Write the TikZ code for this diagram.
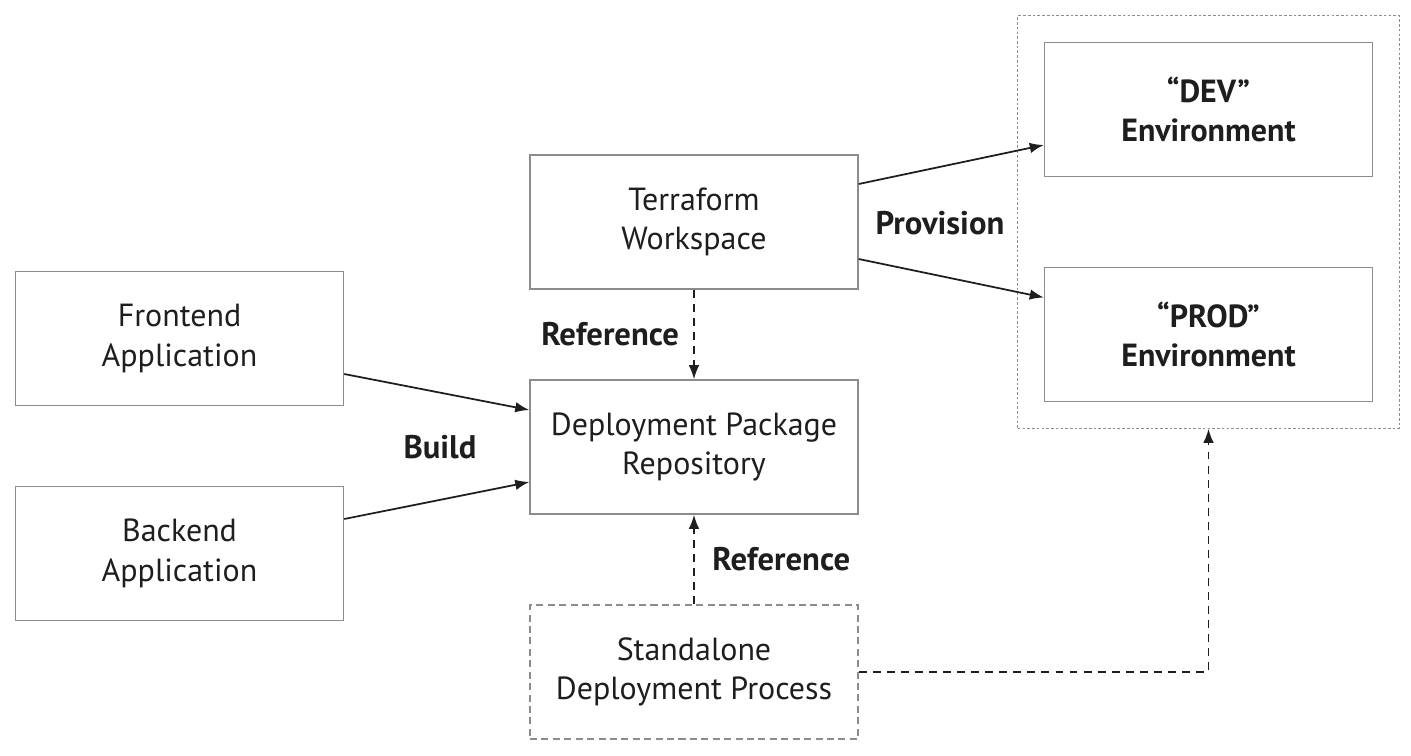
\documentclass[tikz,border=0pt]{standalone}
\usepackage{fontspec}
\setmainfont{PT Sans}
\usetikzlibrary{arrows.meta,fit}

\definecolor{boxgray}{HTML}{8C8C8C}
\definecolor{ink}{HTML}{1E1E1E}

\tikzset{
    block/.style={draw=boxgray, line width=0.8pt, text=ink, align=center,
        minimum width=6.56cm, minimum height=2.68cm,
        font=\fontsize{18.2}{22.5}\selectfont},
    loose/.style={dash pattern=on 4pt off 2.5pt},
    envbox/.style={font=\fontsize{18.2}{22.5}\selectfont\bfseries},
    group/.style={draw=boxgray, line width=0.6pt, dash pattern=on 1.5pt off 1.2pt, inner sep=0.52cm},
    tag/.style={text=ink, font=\fontsize{18.6}{22.5}\selectfont\bfseries},
    link/.style={ink, line width=1pt, -{Latex[length=8pt,width=6pt]}},
    refer/.style={link, dash pattern=on 4.5pt off 3.5pt}
}

\begin{document}
\begin{tikzpicture}[node distance=4.5cm]
    \useasboundingbox (0,0) rectangle (28.22,-15.12);

    \node[block]        (dpr)  at (13.88,-8.94)         {Deployment Package\\Repository};
    \node[block]        (tfw)  [above of=dpr]           {Terraform\\Workspace};
    \node[block,loose]  (sdp)  [below of=dpr]           {Standalone\\Deployment Process};
    \node[block]        (fe)   at (3.59,-6.77)          {Frontend\\Application};
    \node[block]        (be)   [below of=fe,node distance=4.3cm] {Backend\\Application};
    \node[block,envbox] (dev)  at (24.17,-2.19)         {``DEV''\\Environment};
    \node[block,envbox] (prod) [below of=dev]           {``PROD''\\Environment};
    \node[group,fit=(dev) (prod)] (envs) {};

    \node[tag] (build) at (8.8,-8.94)  {Build};
    \node[tag] (prov)  at (18.8,-4.46) {Provision};

    \path[link] ([yshift=-0.71cm]fe.east)  edge ([yshift=0.74cm]dpr.west)
                ([yshift=0.69cm]be.east)   edge ([yshift=-0.7cm]dpr.west)
                ([yshift=0.76cm]tfw.east)  edge ([yshift=-0.71cm]dev.west)
                ([yshift=-0.74cm]tfw.east) edge ([yshift=0.74cm]prod.west)
                ;
    \path[refer] (tfw) edge node[tag,left,inner sep=8pt] {Reference} (dpr)
                 (sdp) edge node[tag,right,inner sep=10pt] {Reference} (dpr)
                 ;
    \draw[refer] (sdp.east) -| (envs.south);
\end{tikzpicture}
\end{document}
